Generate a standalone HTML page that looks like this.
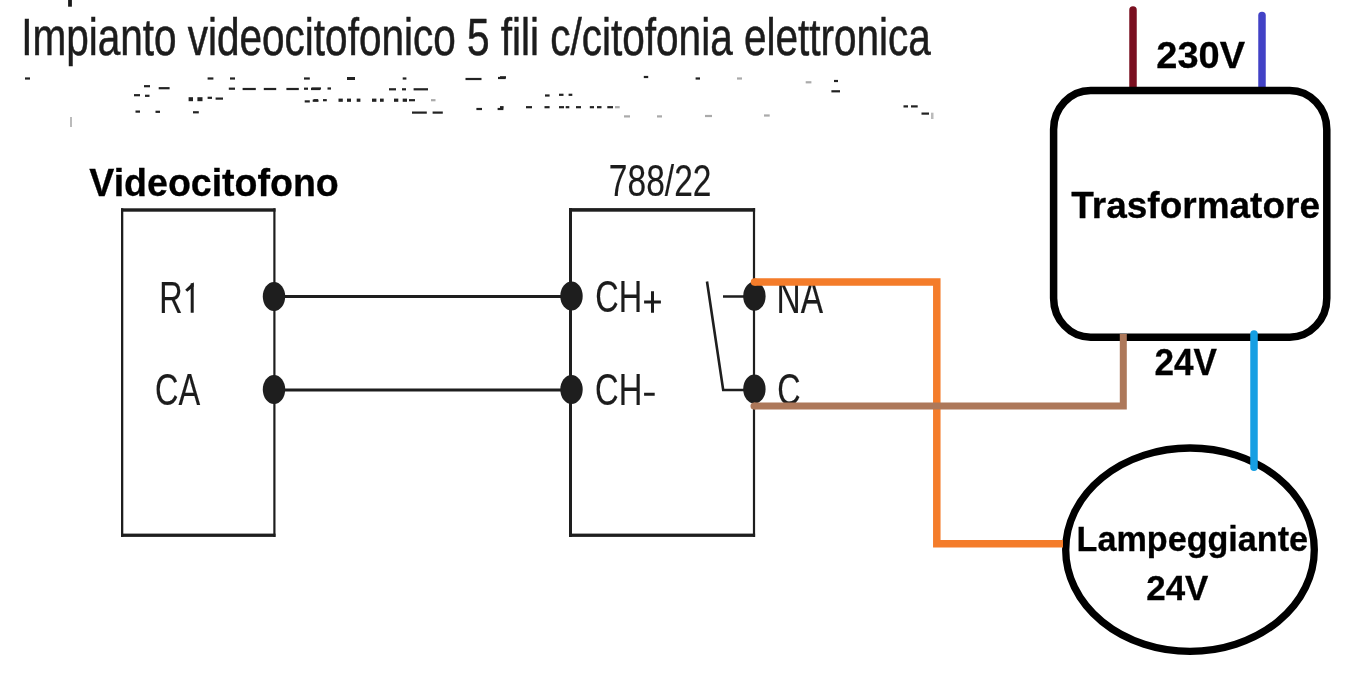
<!DOCTYPE html>
<html><head><meta charset="utf-8"><style>
html,body{margin:0;padding:0;background:#fff;width:1370px;height:685px;overflow:hidden}
svg{position:absolute;left:0;top:0;font-family:"Liberation Sans",sans-serif;will-change:transform}
</style></head><body>
<svg width="1370" height="685" viewBox="0 0 1370 685">
<rect x="121" y="208.3" width="154.50" height="3.4" fill="#1e1e1e"/><rect x="121" y="533.60" width="154.50" height="3.3" fill="#1e1e1e"/><rect x="121" y="208.3" width="2.3" height="328.60" fill="#1e1e1e"/><rect x="273.30" y="208.3" width="2.2" height="328.60" fill="#1e1e1e"/>
<rect x="569" y="208.1" width="186.10" height="3.6" fill="#1e1e1e"/><rect x="569" y="533.60" width="186.10" height="3.3" fill="#1e1e1e"/><rect x="569" y="208.1" width="3" height="328.80" fill="#1e1e1e"/><rect x="752.90" y="208.1" width="2.2" height="328.80" fill="#1e1e1e"/>
<path d="M274,296.6 H570.5 M274,390 H570.5" stroke="#1e1e1e" stroke-width="3" fill="none"/>
<path d="M723,296.5 H754 M707,281.5 L723.2,390 H754" stroke="#1e1e1e" stroke-width="2.6" fill="none" stroke-linejoin="miter"/>
<ellipse cx="274" cy="296.5" rx="11.2" ry="14.5" fill="#1e1e1e"/>
<ellipse cx="274" cy="389.5" rx="11.2" ry="14.5" fill="#1e1e1e"/>
<ellipse cx="571.5" cy="296" rx="11.2" ry="14.5" fill="#1e1e1e"/>
<ellipse cx="571.5" cy="389.5" rx="11.2" ry="14.5" fill="#1e1e1e"/>
<ellipse cx="754.4" cy="296.3" rx="11.2" ry="14.5" fill="#1e1e1e"/>
<ellipse cx="754.4" cy="389" rx="11.2" ry="14.5" fill="#1e1e1e"/>
<path d="M1133,90 V10" stroke="#7a1020" stroke-width="7.5" fill="none" stroke-linecap="round"/>
<path d="M1262,90 V15.5" stroke="#4242c6" stroke-width="7.5" fill="none" stroke-linecap="round"/>
<rect x="1053.6" y="90.5" width="273.2" height="246.7" rx="37" ry="39" fill="none" stroke="#000" stroke-width="7.5"/>
<ellipse cx="1190" cy="549.7" rx="124.3" ry="101.7" fill="none" stroke="#000" stroke-width="7.3"/>
<rect x="25" y="77.4" width="5.0" height="2.2" fill="#222"/>
<rect x="144" y="85.1" width="6.0" height="2.2" fill="#222"/>
<rect x="134" y="94.1" width="6.0" height="2.2" fill="#222"/>
<rect x="145" y="94.7" width="4.5" height="2.2" fill="#222"/>
<rect x="135.5" y="110.5" width="4.5" height="2.2" fill="#222"/>
<rect x="155.5" y="110.7" width="4.5" height="2.2" fill="#222"/>
<rect x="158.7" y="87.1" width="10.9" height="2.2" fill="#222"/>
<rect x="188.6" y="97.2" width="4.4" height="4" fill="#222"/>
<rect x="197.4" y="97.2" width="5.1" height="4" fill="#222"/>
<rect x="207.6" y="96.7" width="4.4" height="2.2" fill="#222"/>
<rect x="215.6" y="97.5" width="7.4" height="2.2" fill="#222"/>
<rect x="193" y="111.2" width="5.8" height="2.2" fill="#222"/>
<rect x="207.6" y="77.4" width="5.8" height="2.2" fill="#222"/>
<rect x="230" y="77.4" width="5.0" height="2.2" fill="#222"/>
<rect x="228.8" y="87.6" width="6.2" height="2.2" fill="#222"/>
<rect x="242.6" y="87.9" width="13.2" height="2.2" fill="#222"/>
<rect x="263.8" y="87.9" width="12.4" height="2.2" fill="#222"/>
<rect x="286.4" y="87.9" width="12.4" height="2.2" fill="#222"/>
<rect x="304" y="87.6" width="4.0" height="2.2" fill="#222"/>
<rect x="311" y="87.9" width="9.0" height="2.2" fill="#222"/>
<rect x="304" y="77.4" width="5.8" height="2.2" fill="#222"/>
<rect x="304.7" y="100.3" width="5.1" height="2.2" fill="#222"/>
<rect x="312.7" y="99.6" width="5.8" height="2.2" fill="#222"/>
<rect x="347" y="77.0" width="8.0" height="3" fill="#222"/>
<rect x="402.7" y="77.4" width="3.7" height="2.2" fill="#222"/>
<rect x="465.5" y="77.9" width="16.0" height="2.2" fill="#222"/>
<rect x="498" y="76.9" width="7.6" height="2.2" fill="#222"/>
<rect x="311.5" y="87.4" width="9.5" height="2.2" fill="#222"/>
<rect x="327.5" y="87.4" width="3.5" height="2.2" fill="#222"/>
<rect x="389" y="88.2" width="7.0" height="2.2" fill="#222"/>
<rect x="402" y="88.2" width="4.0" height="2.2" fill="#222"/>
<rect x="413.6" y="88.2" width="14.4" height="2.2" fill="#222"/>
<rect x="313.6" y="99.1" width="4.4" height="2.2" fill="#222"/>
<rect x="323" y="99.1" width="3.8" height="2.2" fill="#222"/>
<rect x="338.5" y="98.6" width="4.3" height="3.2" fill="#222"/>
<rect x="347" y="98.6" width="4.0" height="3.2" fill="#222"/>
<rect x="356.7" y="98.6" width="3.7" height="3.2" fill="#222"/>
<rect x="372" y="98.6" width="4.4" height="3.2" fill="#222"/>
<rect x="380" y="98.6" width="3.7" height="3.2" fill="#222"/>
<rect x="394" y="98.6" width="4.3" height="3.2" fill="#222"/>
<rect x="402.7" y="98.6" width="4.3" height="3.2" fill="#222"/>
<rect x="409" y="99.1" width="6.0" height="2.2" fill="#222"/>
<rect x="431" y="99.1" width="4.5" height="2.2" fill="#aaa"/>
<rect x="476.4" y="107.9" width="5.6" height="2.2" fill="#222"/>
<rect x="497.6" y="107.9" width="5.8" height="2.2" fill="#222"/>
<rect x="412" y="111.5" width="14.8" height="2.2" fill="#222"/>
<rect x="432.6" y="111.5" width="10.2" height="2.2" fill="#222"/>
<rect x="500" y="76.2" width="6.0" height="2.2" fill="#222"/>
<rect x="643.8" y="75.9" width="4.4" height="2.2" fill="#222"/>
<rect x="695.6" y="77.4" width="4.4" height="2.2" fill="#222"/>
<rect x="545" y="94.4" width="4.6" height="2.2" fill="#222"/>
<rect x="559" y="93.7" width="4.5" height="2.2" fill="#222"/>
<rect x="568.6" y="93.7" width="3.7" height="2.2" fill="#222"/>
<rect x="500" y="106.1" width="3.6" height="2.2" fill="#222"/>
<rect x="526" y="106.1" width="6.0" height="2.2" fill="#222"/>
<rect x="544.5" y="106.1" width="5.1" height="2.2" fill="#222"/>
<rect x="559" y="106.1" width="5.0" height="2.2" fill="#222"/>
<rect x="565.7" y="106.1" width="3.6" height="2.2" fill="#222"/>
<rect x="576" y="106.1" width="5.0" height="2.2" fill="#222"/>
<rect x="589.8" y="106.1" width="4.2" height="2.2" fill="#222"/>
<rect x="597" y="106.1" width="4.5" height="2.2" fill="#222"/>
<rect x="607.3" y="106.1" width="5.7" height="2.2" fill="#222"/>
<rect x="615" y="106.1" width="4.7" height="2.2" fill="#aaa"/>
<rect x="624" y="115.3" width="6.0" height="2.2" fill="#aaa"/>
<rect x="657" y="115.3" width="5.0" height="2.2" fill="#aaa"/>
<rect x="737" y="77.4" width="5.0" height="2.2" fill="#aaa"/>
<rect x="805.7" y="81.2" width="5.7" height="2.2" fill="#aaa"/>
<rect x="834" y="79.9" width="4.0" height="2.2" fill="#222"/>
<rect x="831.4" y="90.2" width="8.6" height="2.2" fill="#222"/>
<rect x="705" y="114.9" width="7.0" height="2.2" fill="#aaa"/>
<rect x="764" y="114.4" width="5.7" height="2.2" fill="#aaa"/>
<rect x="903.5" y="105.3" width="4.5" height="2.2" fill="#222"/>
<rect x="911" y="105.3" width="6.7" height="2.2" fill="#222"/>
<rect x="921.5" y="112.5" width="7.5" height="2.2" fill="#222"/>
<rect x="68.1" y="0" width="3.8" height="6.7" fill="#1a1a1a"/>
<rect x="70" y="117" width="2" height="10" fill="#bbb"/>
<rect x="931" y="112.7" width="2.5" height="6.3" fill="#bbb"/>
<text transform="translate(0.894,-10.770) scale(0.20259,0.26257)" x="100" y="250" font-weight="normal" font-size="200" fill="#1c1c1c" stroke="#1c1c1c" stroke-width="0.5" vector-effect="non-scaling-stroke">Impianto videocitofonico 5 fili c/citofonia elettronica</text>
<text transform="translate(592.030,141.143) scale(0.16791,0.21769)" x="100" y="250" font-weight="normal" font-size="200" fill="#1c1c1c" stroke="#1c1c1c" stroke-width="0.15" vector-effect="non-scaling-stroke">788/22</text>
<text transform="translate(143.024,257.184) scale(0.16186,0.22246)" x="100" y="250" font-weight="normal" font-size="200" fill="#1c1c1c" stroke="#1c1c1c" stroke-width="0.15" vector-effect="non-scaling-stroke">R</text>
<text transform="translate(138.820,349.776) scale(0.16255,0.22113)" x="100" y="250" font-weight="normal" font-size="200" fill="#1c1c1c" stroke="#1c1c1c" stroke-width="0.15" vector-effect="non-scaling-stroke">CA</text>
<text transform="translate(579.141,256.976) scale(0.16236,0.22113)" x="100" y="250" font-weight="normal" font-size="200" fill="#1c1c1c" stroke="#1c1c1c" stroke-width="0.15" vector-effect="non-scaling-stroke">CH</text>
<text transform="translate(578.715,349.466) scale(0.16350,0.22394)" x="100" y="250" font-weight="normal" font-size="200" fill="#1c1c1c" stroke="#1c1c1c" stroke-width="0.15" vector-effect="non-scaling-stroke">CH</text>
<text transform="translate(759.778,256.097) scale(0.16743,0.22681)" x="100" y="250" font-weight="normal" font-size="200" fill="#1c1c1c" stroke="#1c1c1c" stroke-width="0.15" vector-effect="non-scaling-stroke">NA</text>
<text transform="translate(761.090,349.776) scale(0.16190,0.22113)" x="100" y="250" font-weight="normal" font-size="200" fill="#1c1c1c" stroke="#1c1c1c" stroke-width="0.15" vector-effect="non-scaling-stroke">C</text>
<path d="M652.5,291.2 V312.7 M644.1,302.1 H660.9 M644.1,394.2 H654.7 M192.2,312.8 V283.2" stroke="#1c1c1c" stroke-width="3" fill="none"/><path d="M185.2,289.8 L190.8,284.6 L193.7,282.2 L193.7,286.5 L187.3,291.8 Z" fill="#1c1c1c"/>
<text transform="translate(70.552,147.857) scale(0.18773,0.19184)" x="100" y="250" font-weight="bold" font-size="200" fill="#000" stroke="#000" stroke-width="0.3" vector-effect="non-scaling-stroke">Videocitofono</text>
<text transform="translate(1137.372,21.627) scale(0.18998,0.18521)" x="100" y="250" font-weight="bold" font-size="200" fill="#000" stroke="#000" stroke-width="0.3" vector-effect="non-scaling-stroke">230V</text>
<text transform="translate(1052.727,170.343) scale(0.18503,0.18912)" x="100" y="250" font-weight="bold" font-size="200" fill="#000" stroke="#000" stroke-width="0.3" vector-effect="non-scaling-stroke">Trasformatore</text>
<text transform="translate(1136.921,329.700) scale(0.17550,0.18000)" x="100" y="250" font-weight="bold" font-size="200" fill="#000" stroke="#000" stroke-width="0.3" vector-effect="non-scaling-stroke">24V</text>
<text transform="translate(1059.499,507.804) scale(0.17081,0.17234)" x="100" y="250" font-weight="bold" font-size="200" fill="#000" stroke="#000" stroke-width="0.3" vector-effect="non-scaling-stroke">Lampeggiante</text>
<text transform="translate(1128.814,555.414) scale(0.17464,0.17714)" x="100" y="250" font-weight="bold" font-size="200" fill="#000" stroke="#000" stroke-width="0.3" vector-effect="non-scaling-stroke">24V</text>
<path d="M754.5,282 H936.8 V543.8 H1063" stroke="#f47c2a" stroke-width="7.5" fill="none" stroke-linejoin="miter"/><circle cx="754.5" cy="282" r="3.75" fill="#f47c2a"/>
<path d="M754,406 H1123.3 V334" stroke="#ad785a" stroke-width="7" fill="none"/><circle cx="754" cy="406" r="3.5" fill="#ad785a"/>
<path d="M1254,334 V467.2" stroke="#169fe3" stroke-width="7.5" fill="none" stroke-linecap="round"/>
</svg>
</body></html>
